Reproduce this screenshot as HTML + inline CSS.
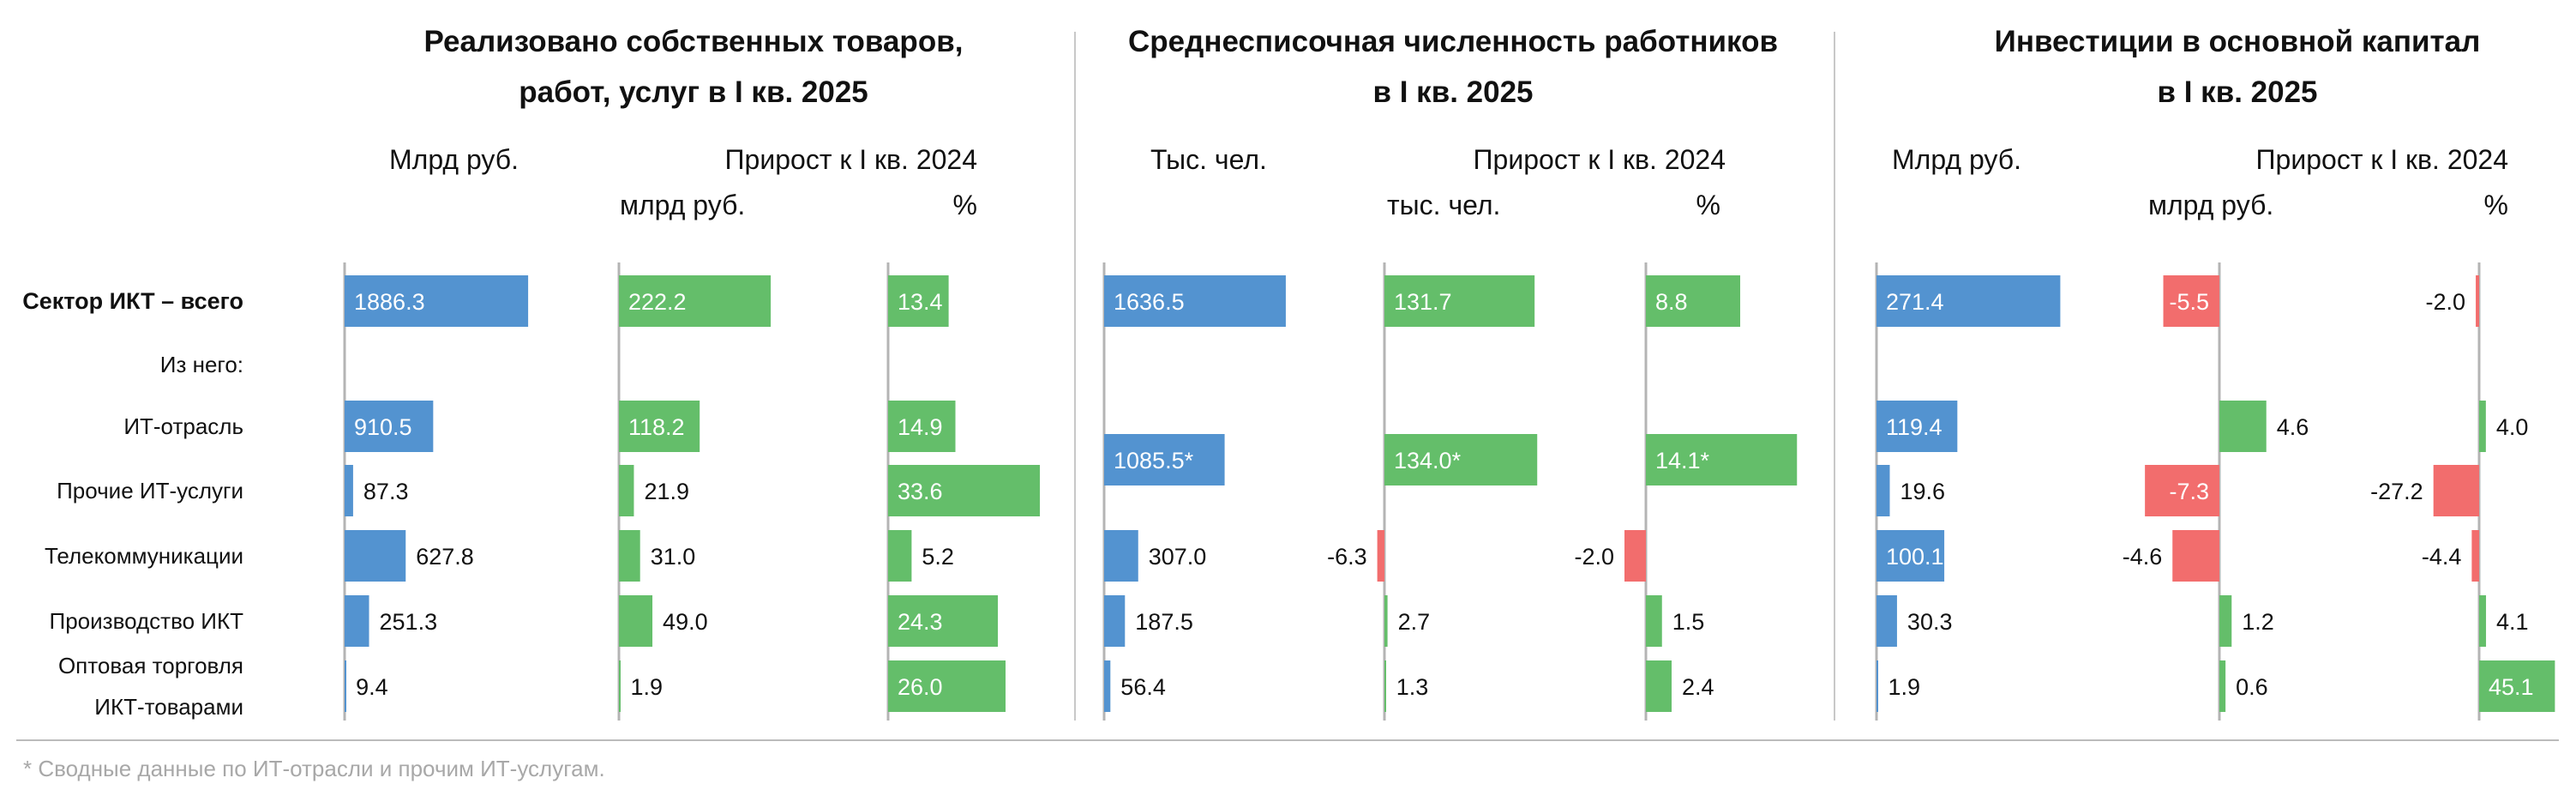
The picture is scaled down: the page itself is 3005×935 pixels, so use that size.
<!DOCTYPE html>
<html><head><meta charset="utf-8">
<style>
html,body{margin:0;padding:0;background:#fff;}
svg{display:block;font-family:"Liberation Sans","Noto Sans CJK SC",sans-serif;}
</style></head>
<body>
<svg id="chart" width="3005" height="935" viewBox="0 0 3005 935" xmlns="http://www.w3.org/2000/svg">
  <g font-weight="bold" font-size="35" text-anchor="middle" fill="#111">
    <text x="809" y="60">Реализовано собственных товаров,</text>
    <text x="809" y="119">работ, услуг в I кв. 2025</text>
    <text x="1695" y="60">Среднесписочная численность работников</text>
    <text x="1695" y="119">в I кв. 2025</text>
    <text x="2610" y="60">Инвестиции в основной капитал</text>
    <text x="2610" y="119">в I кв. 2025</text>
  </g>
  <g font-size="32" fill="#111">
    <text x="454" y="197">Млрд руб.</text>
    <text x="1140" y="197" text-anchor="end">Прирост к I кв. 2024</text>
    <text x="723" y="250">млрд руб.</text>
    <text x="1140" y="250" text-anchor="end">%</text>
    <text x="1342" y="197">Тыс. чел.</text>
    <text x="2013" y="197" text-anchor="end">Прирост к I кв. 2024</text>
    <text x="1618" y="250">тыс. чел.</text>
    <text x="2007" y="250" text-anchor="end">%</text>
    <text x="2207" y="197">Млрд руб.</text>
    <text x="2926" y="197" text-anchor="end">Прирост к I кв. 2024</text>
    <text x="2506" y="250">млрд руб.</text>
    <text x="2926" y="250" text-anchor="end">%</text>
  </g>
  <line x1="1254" y1="37" x2="1254" y2="840" stroke="#c8c8c8" stroke-width="2"/>
  <line x1="2140" y1="37" x2="2140" y2="840" stroke="#c8c8c8" stroke-width="2"/>
  <line x1="19" y1="863" x2="2985" y2="863" stroke="#bbb" stroke-width="2"/>
  <text x="27" y="905" font-size="26" fill="#a8a8a8">* Сводные данные по ИТ-отрасли и прочим ИТ-услугам.</text>
  <g id="rowlabels" font-size="26" fill="#111" text-anchor="end"></g>
  <g id="bars"></g>
</svg>
<script>
// categories
const categories = ["Сектор ИКТ – всего","Из него:","ИТ-отрасль","Прочие ИТ-услуги","Телекоммуникации","Производство ИКТ","Оптовая торговля|ИКТ-товарами"];
// series values (null = no bar)
const revenue      = [1886.3, null, 910.5, 87.3, 627.8, 251.3, 9.4];
const revenueGrowth= [222.2, null, 118.2, 21.9, 31.0, 49.0, 1.9];
const revenuePct   = [13.4, null, 14.9, 33.6, 5.2, 24.3, 26.0];
const staff        = [1636.5, null, null, null, 307.0, 187.5, 56.4];
const staffGrowth  = [131.7, null, null, null, -6.3, 2.7, 1.3];
const staffPct     = [8.8, null, null, null, -2.0, 1.5, 2.4];
const staffItCombined       = 1085.5;
const staffGrowthItCombined = 134.0;
const staffPctItCombined    = 14.1;
const invest       = [271.4, null, 119.4, 19.6, 100.1, 30.3, 1.9];
const investGrowth = [-5.5, null, 4.6, -7.3, -4.6, 1.2, 0.6];
const investPct    = [-2.0, null, 4.0, -27.2, -4.4, 4.1, 45.1];

const NS="http://www.w3.org/2000/svg";
const rowY=[351,425,497,572,648,724,800];
const combinedY=536;
const BAR_H=60;
const COLORS={blue:"#5393D0",green:"#64BE6A",red:"#F26D6D"};
// columns: axis x, pixels per unit, colour
const columns=[
 {name:"revenue",data:revenue,x0:402,k:0.1135,color:"blue"},
 {name:"revenue-growth",data:revenueGrowth,x0:722,k:0.797,color:"green"},
 {name:"revenue-pct",data:revenuePct,x0:1036,k:5.27,color:"green"},
 {name:"staff",data:staff,x0:1288,k:0.1295,color:"blue",comb:staffItCombined},
 {name:"staff-growth",data:staffGrowth,x0:1615,k:1.33,color:"green",comb:staffGrowthItCombined},
 {name:"staff-pct",data:staffPct,x0:1920,k:12.5,color:"green",comb:staffPctItCombined},
 {name:"invest",data:invest,x0:2189,k:0.79,color:"blue"},
 {name:"invest-growth",data:investGrowth,x0:2589,k:11.9,color:"green"},
 {name:"invest-pct",data:investPct,x0:2892,k:1.96,color:"green"}
];
function xScale(col,v){return col.x0+v*col.k;}

const lab=document.getElementById('rowlabels');
categories.forEach((c,i)=>{
  const parts=c.split('|');
  parts.forEach((p,j)=>{
    const t=document.createElementNS(NS,'text');
    
    
    t.setAttribute('x',284);
    const y=parts.length>1?rowY[i]-24+j*48:rowY[i];
    t.setAttribute('y',y+9);
    if(i===0){t.setAttribute('font-weight','bold');t.setAttribute('font-size','27');}
    t.textContent=p;lab.appendChild(t);
  });
});

const g=document.getElementById('bars');
function drawBar(col,v,cy,suffix){
  const x1=xScale(col,0),x2=xScale(col,v);
  const w=Math.abs(x2-x1);
  const neg=v<0;
  const r=document.createElementNS(NS,'rect');
  
  
  r.setAttribute('x',Math.min(x1,x2));r.setAttribute('y',cy-BAR_H/2);
  r.setAttribute('width',Math.max(w,2));r.setAttribute('height',BAR_H);
  r.setAttribute('fill',neg?COLORS.red:COLORS[col.color]);
  g.appendChild(r);
  const label=v.toFixed(1)+suffix;
  const inside=w>=64 && !(w<72 && col.color==="blue");
  const t=document.createElementNS(NS,'text');
  
  
  t.setAttribute('font-size','27');
  t.setAttribute('y',cy+10);
  if(neg){
    t.setAttribute('text-anchor','end');
    if(inside){t.setAttribute('x',x1-12);t.setAttribute('fill','#fff');}
    else{t.setAttribute('x',x2-12);t.setAttribute('fill','#111');}
  }else{
    if(inside){t.setAttribute('x',x1+11);t.setAttribute('fill','#fff');}
    else{t.setAttribute('x',x2+12);t.setAttribute('fill','#111');}
  }
  t.textContent=label;g.appendChild(t);
}
columns.forEach(col=>{
  const ax=document.createElementNS(NS,'line');
  
  
  ax.setAttribute('x1',col.x0);ax.setAttribute('x2',col.x0);
  ax.setAttribute('y1',306);ax.setAttribute('y2',840);
  ax.setAttribute('stroke','#b4b4b4');ax.setAttribute('stroke-width','3');
  g.appendChild(ax);
  col.data.forEach((v,i)=>{ if(v!==null) drawBar(col,v,rowY[i],''); });
  if(col.comb!==undefined) drawBar(col,col.comb,combinedY,'*');
});
</script>
</body></html>
